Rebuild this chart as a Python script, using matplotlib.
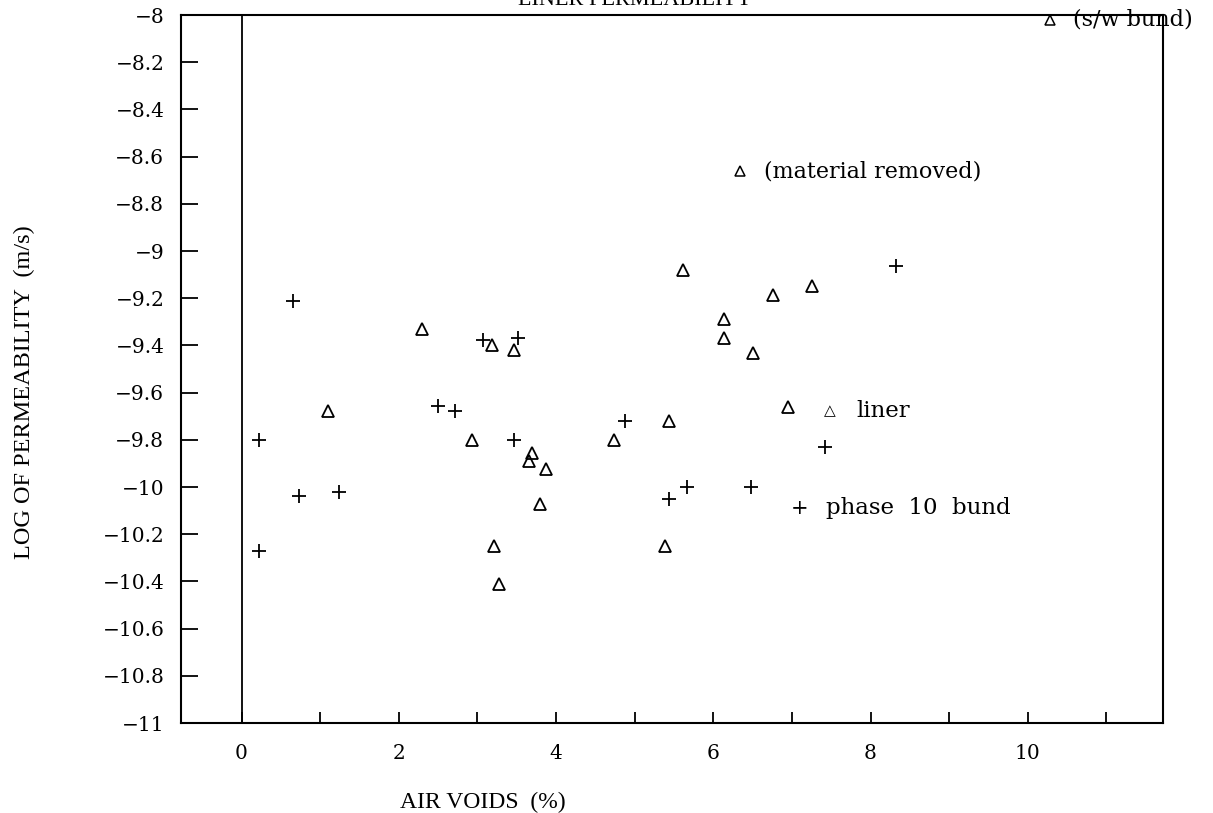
"""Liner permeability vs air voids (scanned-style scatter)."""
import matplotlib
matplotlib.use("Agg")
import matplotlib.pyplot as plt
from matplotlib.ticker import MultipleLocator, FuncFormatter

# liner samples (triangles)
liner_voids = [2.30, 3.18, 3.47, 1.10, 2.93, 3.70, 3.66, 3.87, 3.79, 3.21, 3.27,
               4.74, 5.44, 5.39, 5.62, 6.14, 6.14, 6.50, 6.76, 7.25, 6.95]
liner_logk = [-9.33, -9.40, -9.42, -9.68, -9.80, -9.855, -9.89, -9.925, -10.07, -10.25, -10.41,
              -9.80, -9.72, -10.25, -9.08, -9.29, -9.37, -9.43, -9.185, -9.15, -9.66]

# phase 10 bund samples (pluses)
bund_voids = [0.66, 3.07, 3.52, 2.50, 2.72, 0.22, 3.46, 0.73, 1.24, 0.22,
              8.33, 4.88, 7.42, 5.67, 6.48, 5.44]
bund_logk = [-9.21, -9.375, -9.37, -9.655, -9.68, -9.80, -9.80, -10.04, -10.02, -10.27,
             -9.065, -9.72, -9.83, -10.00, -10.00, -10.05]

# individually labelled liner samples
note_voids = [6.34, 10.28]
note_logk = [-8.663, -8.02]
note_text = ["(material removed)", "(s/w bund)"]

SERIF = ["DejaVu Serif", "DejaVu Sans"]
LABEL = ["Liberation Serif", "DejaVu Serif"]

fig = plt.figure(figsize=(12.13, 8.13), dpi=100)
ax = fig.add_axes([0.1492, 0.1107, 0.8096, 0.8708])

ax.plot(liner_voids, liner_logk, ls="none", marker="^", ms=8.5, mfc="none",
        mec="black", mew=1.3)
ax.plot(bund_voids, bund_logk, ls="none", marker="+", ms=10, mec="black", mew=1.3)
ax.plot(note_voids, note_logk, ls="none", marker="^", ms=6.5, mfc="none",
        mec="black", mew=1.1, clip_on=False)
for x, y, t in zip(note_voids, note_logk, note_text):
    ax.annotate(t, (x, y), xytext=(17, 0), textcoords="offset points", va="center",
                fontsize=16, family=SERIF, annotation_clip=False)

# inline key
ax.text(7.48, -9.679, "\u25b3", ha="center", va="center", fontsize=11, family=SERIF)
ax.text(7.82, -9.679, "liner", va="center", fontsize=16.5, family=SERIF)
ax.text(7.10, -10.09, "+", ha="center", va="center", fontsize=15, family=SERIF)
ax.text(7.43, -10.09, "phase  10  bund", va="center", fontsize=16.5, family=SERIF)

ax.axvline(0, color="black", lw=1.3)
ax.set_xlim(-0.77, 11.72)
ax.set_ylim(-11, -8)
ax.xaxis.set_major_locator(MultipleLocator(2))
ax.xaxis.set_minor_locator(MultipleLocator(1))
ax.yaxis.set_major_locator(MultipleLocator(0.2))
fmt = FuncFormatter(lambda v, p: ("%g" % round(v, 1)).replace("-", "\u2212"))
ax.xaxis.set_major_formatter(fmt)
ax.yaxis.set_major_formatter(fmt)
ax.tick_params(axis="both", which="both", direction="in", top=False, right=False,
               width=1.3, labelsize=14.5)
ax.tick_params(axis="y", length=12, pad=12)
ax.tick_params(axis="x", which="both", length=8, pad=15)
for lab in ax.get_xticklabels() + ax.get_yticklabels():
    lab.set_family(SERIF)
for s in ax.spines.values():
    s.set_linewidth(1.5)

ax.set_xlabel("AIR VOIDS  (%)", fontsize=17, family=LABEL)
ax.xaxis.set_label_coords(0.3075, -0.0975)
ax.set_ylabel("LOG OF PERMEABILITY  (m/s)", fontsize=17.5, family=LABEL)
ax.yaxis.set_label_coords(-0.149, 0.4675)

# title sits mostly beyond the top edge of the scan
fig.text(635 / 1213, 1 - 5 / 813, "LINER PERMEABILITY", ha="center", va="baseline",
         fontsize=16, family=LABEL)

fig.savefig("out.png", dpi=100)
